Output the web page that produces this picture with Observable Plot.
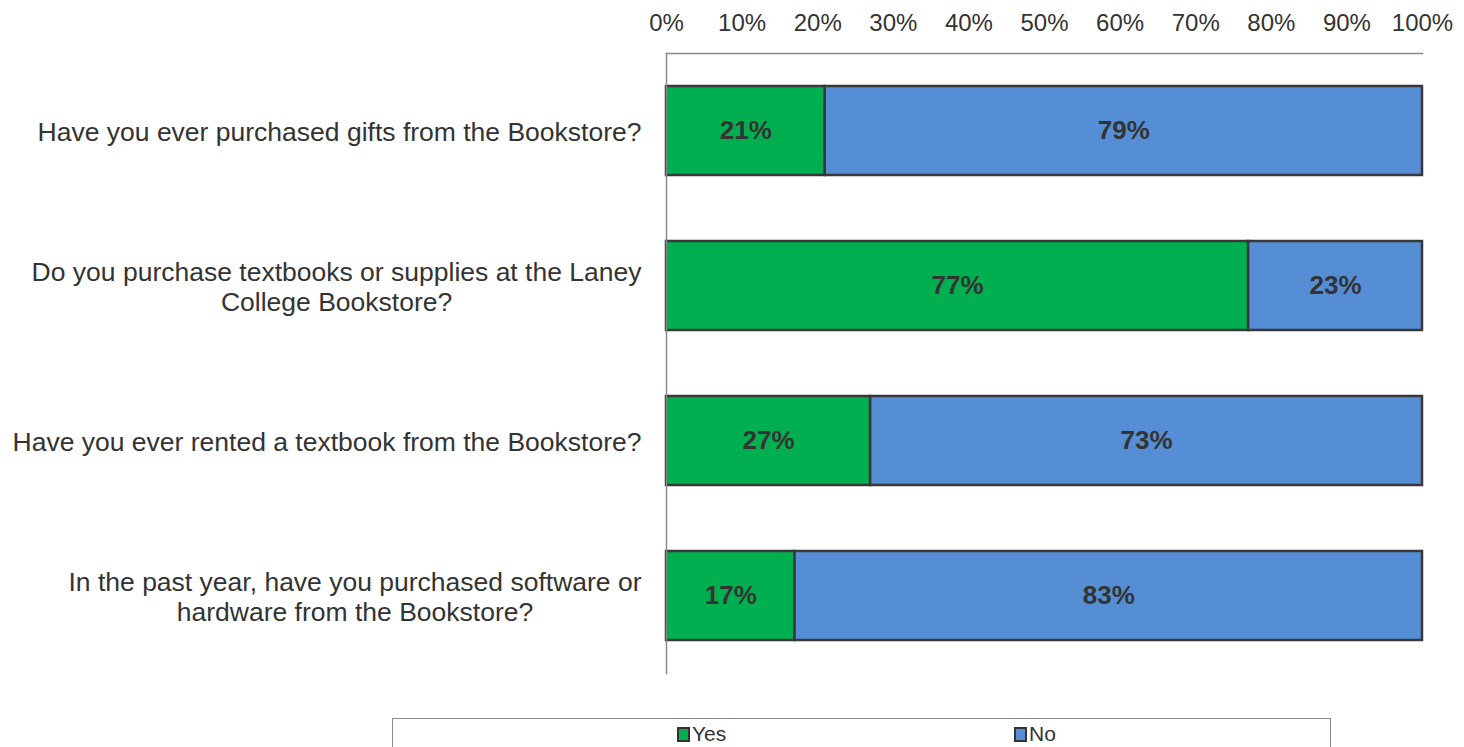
<!DOCTYPE html>
<html>
<head>
<meta charset="utf-8">
<script src="https://cdn.jsdelivr.net/npm/d3@7"></script>
<script src="https://cdn.jsdelivr.net/npm/@observablehq/plot@0.6"></script>
<style>
  html, body { margin: 0; padding: 0; background: #fff; overflow: hidden; }
  body { width: 1464px; height: 747px; position: relative; font-family: "Liberation Sans", Arial, sans-serif; }
  #chart { position: absolute; left: 0; top: 0; }
  #legend { position: absolute; left: 392px; top: 718px; width: 939px; height: 40px;
            border: 1.5px solid #8a8a8a; border-bottom: none; box-sizing: border-box; }
  .item { position: absolute; top: 3px; display: flex; align-items: center; font-size: 21px; color: #333; }
  .sw { width: 9px; height: 11px; border: 2px solid #333; margin-right: 2px; }
</style>
</head>
<body>
<div id="chart"></div>
<div id="legend"></div>
<script>
const questions = [
  "Have you ever purchased gifts from the Bookstore?",
  "Do you purchase textbooks or supplies at the Laney\nCollege Bookstore?",
  "Have you ever rented a textbook from the Bookstore?",
  "In the past year, have you purchased software or\nhardware from the Bookstore?"
];
const yesValues = [21, 77, 27, 17];
const noValues = [79, 23, 73, 83];
const answers = ["Yes", "No"];
const colors = ["#00B050", "#558ED5"];
const xTicks = [0, 10, 20, 30, 40, 50, 60, 70, 80, 90, 100];

const data = [];
questions.forEach((q, i) => {
  data.push({q, answer: "Yes", value: yesValues[i]});
  data.push({q, answer: "No", value: noValues[i]});
});

const FONT = '"Liberation Sans", Arial, sans-serif';
const labelSize = 26.5;
const ctx = document.createElement("canvas").getContext("2d");
ctx.font = `${labelSize}px ${FONT}`;
const maxLineWidth = q => Math.max(...q.split("\n").map(l => ctx.measureText(l).width));

const labelMarks = questions.map(q => Plot.text([q], {
  y: d => d,
  text: d => d,
  frameAnchor: "left",
  textAnchor: "middle",
  dx: -(25 + maxLineWidth(q) / 2),
  fontSize: labelSize,
  fill: "#333",
  lineHeight: 1.13
}));

const chart = Plot.plot({
  width: 1464,
  height: 700,
  marginTop: 53,
  marginBottom: 27,
  marginLeft: 666,
  marginRight: 42,
  style: {fontFamily: FONT, background: "#fff"},
  x: {domain: [0, 100], axis: null},
  y: {domain: questions, paddingInner: 0.426, paddingOuter: 0.213, axis: null},
  color: {domain: answers, range: colors},
  marks: [
    Plot.axisX({
      anchor: "top",
      ticks: xTicks,
      tickFormat: d => d + "%",
      tickSize: 0,
      tickPadding: 23,
      fontSize: 24,
      fill: "#333",
      label: null
    }),
    Plot.barX(data, Plot.stackX({
      x: "value", y: "q", fill: "answer", z: "answer",
      order: answers,
      stroke: "#383838", strokeWidth: 2.5, inset: 0
    })),
    Plot.text(data, Plot.stackX({
      x: "value", y: "q", z: "answer",
      order: answers,
      text: d => d.value + "%",
      fontSize: 26, fontWeight: "bold", fill: "#333"
    })),
    Plot.frame({anchor: "top", stroke: "#8a8a8a", strokeWidth: 1.5}),
    Plot.frame({anchor: "left", stroke: "#8a8a8a", strokeWidth: 1.5}),
    ...labelMarks
  ]
});
document.getElementById("chart").appendChild(chart);

const legend = document.getElementById("legend");
const offsets = [284, 621];
answers.forEach((a, i) => {
  const item = document.createElement("div");
  item.className = "item";
  item.style.left = offsets[i] + "px";
  item.innerHTML = `<span class="sw" style="background:${colors[i]}"></span><span>${a}</span>`;
  legend.appendChild(item);
});
</script>
</body>
</html>
